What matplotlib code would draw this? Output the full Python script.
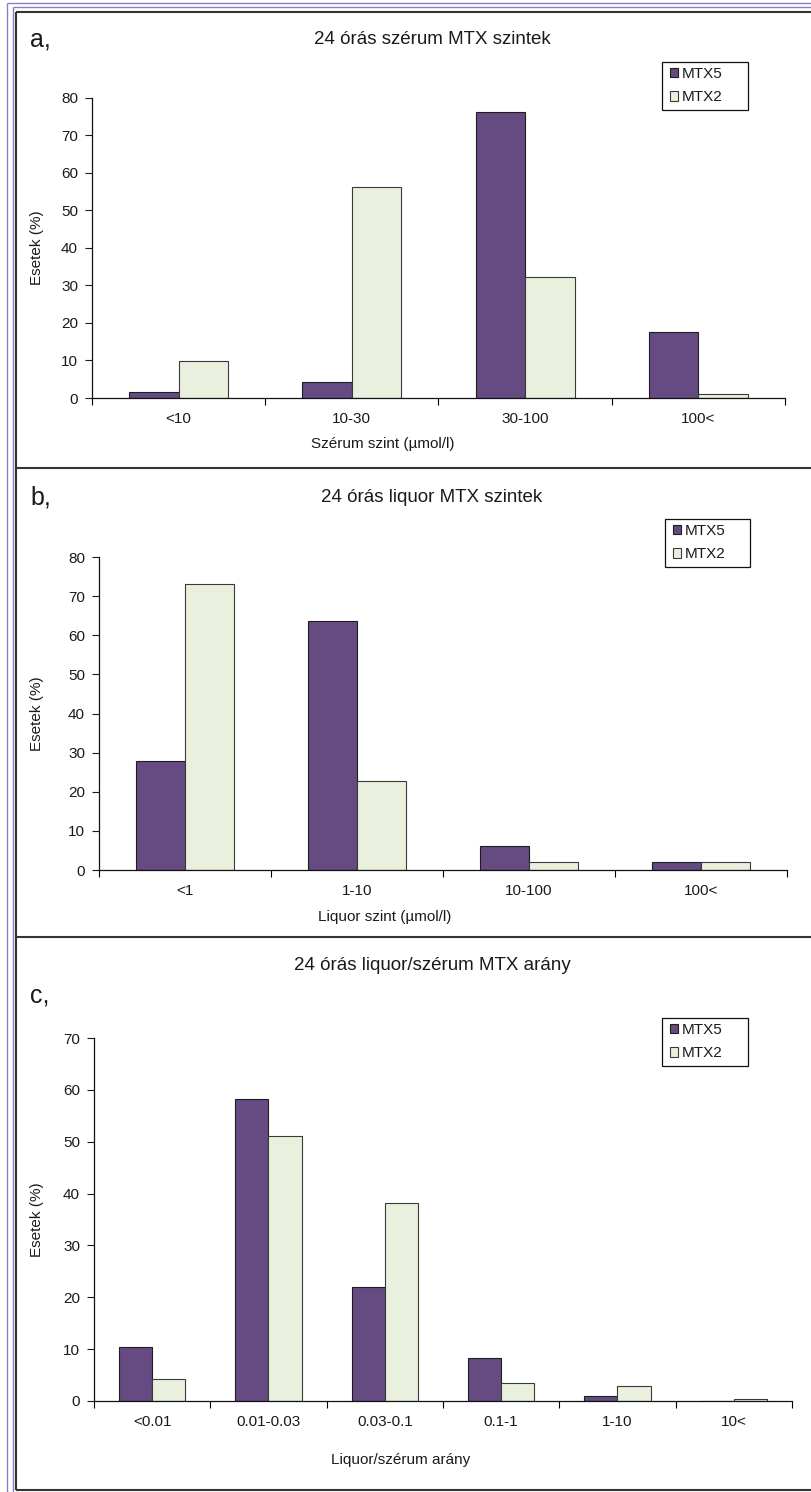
import matplotlib
matplotlib.use("Agg")
import matplotlib.pyplot as plt
from matplotlib.lines import Line2D
from matplotlib.patches import Rectangle
import numpy as np

W, H = 812, 1492
DPI = 100
plt.rcParams['font.family'] = ['Liberation Sans', 'DejaVu Sans']

series_names = ["MTX5", "MTX2"]

cats_a = ["<10", "10-30", "30-100", "100<"]
mtx5_a = [1.7, 4.3, 76.2, 17.6]
mtx2_a = [9.8, 56.3, 32.3, 1.1]

cats_b = ["<1", "1-10", "10-100", "100<"]
mtx5_b = [27.9, 63.7, 6.2, 2.0]
mtx2_b = [73.1, 22.7, 2.0, 2.0]

cats_c = ["<0.01", "0.01-0.03", "0.03-0.1", "0.1-1", "1-10", "10<"]
mtx5_c = [10.5, 58.2, 21.9, 8.3, 1.0, 0.0]
mtx2_c = [4.3, 51.1, 38.1, 3.4, 2.8, 0.4]

titles = ["24 órás szérum MTX szintek", "24 órás liquor MTX szintek",
          "24 órás liquor/szérum MTX arány"]
letters = ["a,", "b,", "c,"]
xlabels = ["Szérum szint (µmol/l)", "Liquor szint (µmol/l)", "Liquor/szérum arány"]
ylabel = "Esetek (%)"
ymaxes = [80, 80, 70]

C5 = '#654B82'
C2 = '#E9F0DD'
TXT = '#1a1a1a'
FS = 11

fig = plt.figure(figsize=(W / DPI, H / DPI), dpi=DPI)


def fx(x):
    return x / W


def fy(y):
    return 1 - y / H


def fline(x0, y0, x1, y1, color, lw):
    fig.add_artist(Line2D([fx(x0), fx(x1)], [fy(y0), fy(y1)], color=color,
                          lw=lw, transform=fig.transFigure, solid_capstyle='butt'))


# outer purple double border
pc = '#8E7BC8'
fline(7, 3, 7, H, pc, 1.0)
fline(13, 7, 13, H, pc, 1.0)
fline(7, 3, W, 3, pc, 1.0)
fline(13, 7, W, 7, pc, 1.0)
# inner dark frame and separators
fc = '#333333'
fline(16, 12, 16, 1490, fc, 1.5)
fline(16, 12, W, 12, fc, 1.5)
fline(16, 468, W, 468, fc, 1.5)
fline(16, 937, W, 937, fc, 1.5)
fline(16, 1489.5, W, 1489.5, fc, 1.5)

panels = [
    dict(cats=cats_a, s5=mtx5_a, s2=mtx2_a, rect=(92, 97.5, 785, 398),
         title_y=40, letter_y=40, xl=(383, 444), leg=(662, 62, 748, 110)),
    dict(cats=cats_b, s5=mtx5_b, s2=mtx2_b, rect=(99, 557, 787, 870),
         title_y=497, letter_y=497, xl=(385, 917), leg=(665, 519, 750, 567)),
    dict(cats=cats_c, s5=mtx5_c, s2=mtx2_c, rect=(94, 1038, 792, 1401),
         title_y=966, letter_y=996, xl=(401, 1460), leg=(662, 1018, 748, 1066)),
]

for i, p in enumerate(panels):
    l, t, r, b = p['rect']
    ax = fig.add_axes([fx(l), fy(b), fx(r) - fx(l), fy(t) - fy(b)])
    n = len(p['cats'])
    x = np.arange(n)
    w = 1 / 3.5
    ax.bar(x - w / 2, p['s5'], w, color=C5, edgecolor='#1E1E1E', lw=0.8,
           label=series_names[0])
    ax.bar(x + w / 2, p['s2'], w, color=C2, edgecolor='#3A3A3A', lw=0.8,
           label=series_names[1])
    ax.set_xlim(-0.5, n - 0.5)
    ax.set_ylim(0, ymaxes[i])
    ax.set_yticks(np.arange(0, ymaxes[i] + 1, 10))
    ax.set_xticks(x)
    ax.set_xticklabels(p['cats'])
    ax.set_xticks(np.arange(n + 1) - 0.5, minor=True)
    ax.tick_params(axis='x', which='major', length=0, pad=10, labelsize=FS,
                   colors=TXT)
    ax.tick_params(axis='x', which='minor', length=5, width=0.8, direction='out')
    ax.tick_params(axis='y', length=5, width=0.8, direction='out', pad=5,
                   labelsize=FS, colors=TXT)
    for s in ['top', 'right']:
        ax.spines[s].set_visible(False)
    for s in ['left', 'bottom']:
        ax.spines[s].set_linewidth(0.9)
        ax.spines[s].set_color('#111111')
    ax.set_facecolor('none')

    fig.text(fx(432), fy(p['title_y']), titles[i], ha='center', va='center',
             fontsize=13.5, color=TXT)
    fig.text(fx(30), fy(p['letter_y']), letters[i], ha='left', va='center',
             fontsize=18, color=TXT)
    fig.text(fx(p['xl'][0]), fy(p['xl'][1]), xlabels[i], ha='center', va='center',
             fontsize=FS, color=TXT)
    fig.text(fx(37), fy((t + b) / 2), ylabel, ha='center', va='center',
             rotation=90, fontsize=FS, color=TXT)

    # legend frame and entries
    L0, T0, R0, B0 = p['leg']
    ax.add_patch(Rectangle((fx(L0), fy(B0)), fx(R0) - fx(L0), fy(T0) - fy(B0),
                           transform=fig.transFigure, fill=True, facecolor='white',
                           edgecolor='#111111', lw=0.9, clip_on=False, zorder=4))
    lg = ax.legend(loc='upper left', bbox_to_anchor=(fx(L0 + 8), fy(T0 + 5)),
                   bbox_transform=fig.transFigure, fontsize=FS, frameon=False,
                   handlelength=0.55, handleheight=0.55, handletextpad=0.2,
                   borderpad=0, labelspacing=0.62, borderaxespad=0)
    for txt in lg.get_texts():
        txt.set_color(TXT)
    lg.set_zorder(6)

fig.savefig('out.png', dpi=DPI)
